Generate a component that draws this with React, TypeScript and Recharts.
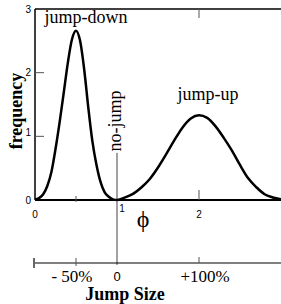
import React from 'react';
import { LineChart, Line, XAxis, YAxis, ReferenceLine } from 'recharts';

// phi = 1 + jump size
const phi = [
  0, 0.05, 0.1, 0.15, 0.2, 0.25, 0.3, 0.35, 0.4, 0.45, 0.5, 0.55, 0.6, 0.65, 0.7, 0.75, 0.8, 0.85, 0.9, 0.95, 1.0,
  1.1, 1.2, 1.3, 1.4, 1.5, 1.6, 1.7, 1.8, 1.9, 2.0, 2.1, 2.2, 2.3, 2.4, 2.5, 2.6, 2.7, 2.8, 2.9, 3.0,
];
const frequency = [
  0.01, 0.03, 0.09, 0.22, 0.44, 0.8, 1.22, 1.68, 2.15, 2.52, 2.66, 2.5, 2.05, 1.45, 0.92, 0.55, 0.28, 0.12, 0.05, 0.01, 0.0,
  0.04, 0.1, 0.2, 0.33, 0.51, 0.72, 0.94, 1.14, 1.28, 1.33, 1.29, 1.16, 0.98, 0.78, 0.55, 0.34, 0.2, 0.09, 0.04, 0.01,
];

const phiTicks = [0, 0.5, 1, 2];
const phiTickLabels = ['0', '', '1', '2'];
const topTicks = [2];
const freqTicks = [0, 1, 2, 3];
const freqTickLabels = ['0', '1', '2', '3'];
const rightTicks = [1, 2];
const jumpTicks = [0, 0.5, 1, 2];
const jumpLabels = ['', '- 50%', '0', '+100%'];
const noJumpPhi = 1;
const noJumpSpan = [0.74, -1.02];

const xTitle = 'Jump Size';
const yTitle = 'frequency';
const phiSymbol = 'ϕ';
const groupLabels = ['jump-down', 'no-jump', 'jump-up'];

const data = phi.map((p, i) => ({ phi: p, f: frequency[i] }));

const SERIF = '"Liberation Serif", "Times New Roman", serif';
const SANS = '"Liberation Sans", Arial, sans-serif';
const TICK = '#555';

const PhiTick = (props: any) => {
  const { x, y, payload } = props;
  const v = payload.value;
  const lab = phiTickLabels[phiTicks.indexOf(v)];
  return (
    <g>
      {v === 0.5 && <line x1={x} x2={x} y1={y - 4} y2={y + 2} stroke={TICK} strokeWidth={1} />}
      {v === 2 && <line x1={x} x2={x} y1={y - 10} y2={y} stroke={TICK} strokeWidth={1} />}
      {lab && (
        <text x={v === 1 ? x + 5 : x} y={v === 1 ? y + 12 : y + 18} textAnchor="middle" fontFamily={SANS} fontSize={10} fill="#000">
          {lab}
        </text>
      )}
    </g>
  );
};

const TopTick = (props: any) => {
  const { x, y } = props;
  return <line x1={x} x2={x} y1={y} y2={y + 9} stroke={TICK} strokeWidth={1} />;
};

const LeftTick = (props: any) => {
  const { x, y, payload } = props;
  const v = payload.value;
  const lab = freqTickLabels[freqTicks.indexOf(v)];
  return (
    <g>
      {(v === 1 || v === 2) && <line x1={x} x2={x + 9} y1={y} y2={y} stroke={TICK} strokeWidth={1} />}
      <text x={x - 4} y={v === 1 ? y - 4 : y} dy="0.35em" textAnchor="end" fontFamily={SANS} fontSize={10} fill="#000">
        {lab}
      </text>
    </g>
  );
};

const RightTick = (props: any) => {
  const { x, y } = props;
  return <line x1={x - 9} x2={x} y1={y} y2={y} stroke={TICK} strokeWidth={1} />;
};

const JumpTick = (props: any) => {
  const { x, y, payload } = props;
  const v = payload.value;
  const lab = jumpLabels[jumpTicks.indexOf(v)];
  const isZero = v === 1;
  return (
    <g>
      {v === 0 && <line x1={x - 1} x2={x - 1} y1={y - 5} y2={y + 5} stroke="#000" strokeWidth={1.2} />}
      {v === 0.5 && <line x1={x} x2={x} y1={y - 5} y2={y + 3} stroke={TICK} strokeWidth={1} />}
      {v === 2 && <line x1={x} x2={x} y1={y - 6} y2={y} stroke={TICK} strokeWidth={1} />}
      {lab && (
        <text
          x={v === 0.5 ? x - 4 : v === 2 ? x + 6 : x}
          y={isZero ? y + 18 : y + 19}
          textAnchor="middle"
          fontFamily={isZero ? SANS : SERIF}
          fontSize={isZero ? 13 : 17}
          fill="#000"
        >
          {lab}
        </text>
      )}
    </g>
  );
};

export default function App() {
  return (
    <div style={{ position: 'absolute', left: 0, top: 0, width: 281, height: 304, background: '#fff' }}>
      <LineChart width={281} height={304} data={data} margin={{ top: 8, right: -1, bottom: 0, left: 34 }}>
        <XAxis
          xAxisId="b"
          dataKey="phi"
          type="number"
          domain={[0, 3]}
          ticks={phiTicks}
          interval={0}
          height={63}
          axisLine={{ stroke: '#000', strokeWidth: 2 }}
          tickLine={false}
          tickSize={0}
          tickMargin={0}
          tick={<PhiTick />}
        />
        <XAxis
          xAxisId="j"
          dataKey="phi"
          type="number"
          domain={[0, 3]}
          ticks={jumpTicks}
          interval={0}
          height={41}
          axisLine={{ stroke: '#000', strokeWidth: 1.2 }}
          tickLine={false}
          tickSize={0}
          tickMargin={0}
          tick={<JumpTick />}
        />
        <XAxis
          xAxisId="t"
          orientation="top"
          dataKey="phi"
          type="number"
          domain={[0, 3]}
          ticks={topTicks}
          interval={0}
          height={1}
          axisLine={{ stroke: '#000', strokeWidth: 1.5 }}
          tickLine={false}
          tickSize={0}
          tickMargin={0}
          tick={<TopTick />}
        />
        <YAxis
          yAxisId="l"
          type="number"
          domain={[0, 3]}
          ticks={freqTicks}
          interval={0}
          width={1}
          axisLine={{ stroke: '#000', strokeWidth: 1.5 }}
          tickLine={false}
          tickSize={0}
          tickMargin={0}
          tick={<LeftTick />}
        />
        <YAxis
          yAxisId="r"
          orientation="right"
          type="number"
          domain={[0, 3]}
          ticks={rightTicks}
          interval={0}
          width={1}
          axisLine={false}
          tickLine={false}
          tickSize={0}
          tickMargin={0}
          tick={<RightTick />}
        />
        <ReferenceLine
          xAxisId="b"
          yAxisId="l"
          segment={[
            { x: noJumpPhi, y: noJumpSpan[0] },
            { x: noJumpPhi, y: noJumpSpan[1] },
          ]}
          ifOverflow="visible"
          stroke="#444"
          strokeWidth={1}
        />
        <Line
          xAxisId="b"
          yAxisId="l"
          dataKey="f"
          type="monotone"
          stroke="#000"
          strokeWidth={2.5}
          dot={false}
          isAnimationActive={false}
        />
        <text x={86} y={23} textAnchor="middle" fontFamily={SERIF} fontSize={18} fill="#000">
          {groupLabels[0]}
        </text>
        <text transform="translate(121,121) rotate(-90)" textAnchor="middle" fontFamily={SERIF} fontSize={18} fill="#000">
          {groupLabels[1]}
        </text>
        <text x={208} y={100} textAnchor="middle" fontFamily={SERIF} fontSize={18} fill="#000">
          {groupLabels[2]}
        </text>
        <text transform="translate(22,111) rotate(-90)" textAnchor="middle" fontFamily={SERIF} fontSize={18} fontWeight="bold" fill="#000">
          {yTitle}
        </text>
        <text x={143} y={227} textAnchor="middle" fontFamily={SERIF} fontSize={24} fill="#000">
          {phiSymbol}
        </text>
        <text x={125} y={300} textAnchor="middle" fontFamily={SERIF} fontSize={18} fontWeight="bold" fill="#000">
          {xTitle}
        </text>
      </LineChart>
    </div>
  );
}
